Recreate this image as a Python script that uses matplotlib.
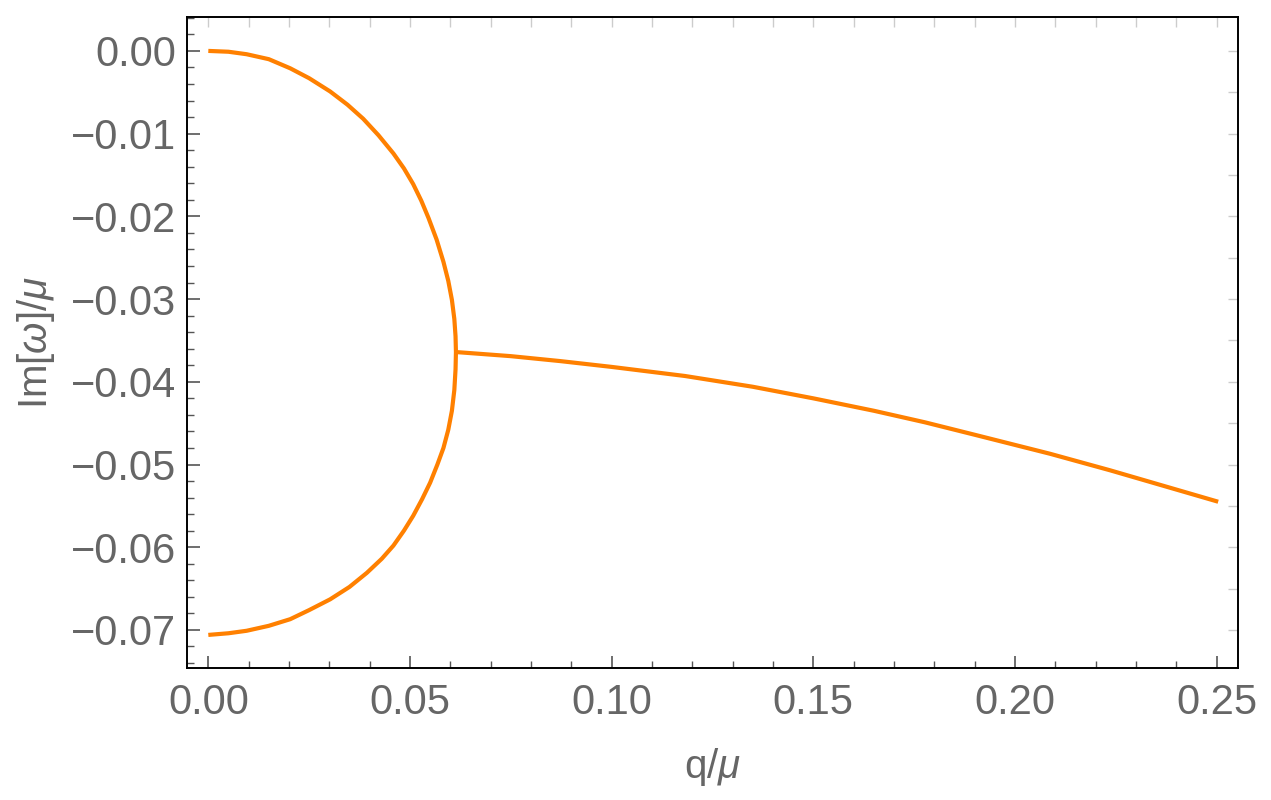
import matplotlib
matplotlib.use("Agg")
import matplotlib.pyplot as plt
from matplotlib.ticker import MultipleLocator, FuncFormatter

# Closed arc (upper branch then lower branch)
arc_q = [0.0, 0.005, 0.0095, 0.015, 0.0203, 0.025, 0.0302, 0.0345, 0.0384, 0.0422,
         0.0459, 0.0485, 0.0508, 0.0528, 0.0546, 0.0566, 0.0583, 0.0595, 0.0604, 0.0610,
         0.0613, 0.0614,
         0.0613, 0.0610, 0.0604, 0.0595, 0.0583, 0.0568, 0.0550, 0.0530, 0.0508, 0.0485,
         0.0459, 0.0430, 0.0393, 0.0350, 0.0302, 0.0250, 0.0203, 0.0150, 0.0095, 0.0050, 0.0]
arc_im = [0.0, -0.0001, -0.0004, -0.0010, -0.0021, -0.0033, -0.0049, -0.0065, -0.0082, -0.0102,
          -0.0124, -0.0142, -0.0161, -0.0181, -0.0202, -0.0228, -0.0255, -0.0278, -0.0301, -0.0324,
          -0.0345, -0.0364,
          -0.0385, -0.0410, -0.0435, -0.0458, -0.0480, -0.0500, -0.0522, -0.0542, -0.0562, -0.0580,
          -0.0598, -0.0614, -0.0631, -0.0648, -0.0663, -0.0676, -0.0687, -0.0695, -0.0701, -0.0704, -0.0706]

# Branch after the junction
tail_q = [0.0613, 0.075, 0.0873, 0.100, 0.1182, 0.135, 0.150, 0.165, 0.1777, 0.190,
          0.2087, 0.2236, 0.2370, 0.2504]
tail_im = [-0.0364, -0.0369, -0.0375, -0.0382, -0.0393, -0.0406, -0.0420, -0.0435, -0.0449, -0.0464,
           -0.0487, -0.0507, -0.0526, -0.0545]

x_ticks = [0.00, 0.05, 0.10, 0.15, 0.20, 0.25]
y_ticks = [0.00, -0.01, -0.02, -0.03, -0.04, -0.05, -0.06, -0.07]

plt.rcParams['font.family'] = ['Liberation Sans', 'DejaVu Sans']
plt.rcParams['mathtext.fontset'] = 'custom'
plt.rcParams['mathtext.it'] = 'Liberation Sans:italic'
plt.rcParams['mathtext.rm'] = 'Liberation Sans'

fig = plt.figure(figsize=(12.71, 8.0), dpi=100)
ax = fig.add_axes([0.1474, 0.165, 0.9743 - 0.1474, 0.97875 - 0.165])

orange = '#FF8000'
ax.plot(arc_q, arc_im, color=orange, lw=3.0, solid_capstyle='butt', solid_joinstyle='round')
ax.plot(tail_q, tail_im, color=orange, lw=3.0, solid_capstyle='butt', solid_joinstyle='round')

ax.set_xlim(-0.0052, 0.2554)
ax.set_ylim(-0.0746, 0.0041)

def fmt(v, pos):
    s = '%.2f' % abs(v)
    return ('\u2212' + s) if v < -1e-12 else s

gray = '#666666'
ax.set_xticks(x_ticks)
ax.set_yticks(y_ticks)
ax.xaxis.set_major_formatter(FuncFormatter(fmt))
ax.yaxis.set_major_formatter(FuncFormatter(fmt))
ax.xaxis.set_minor_locator(MultipleLocator(0.01))
ax.yaxis.set_minor_locator(MultipleLocator(0.002))
ax.tick_params(axis='both', which='major', direction='in', length=9, width=1.2,
               color='#555555', labelcolor=gray, labelsize=30)
ax.tick_params(axis='both', which='minor', direction='in', length=5, width=1.0, color='#555555')
ax.tick_params(axis='x', which='major', pad=11)
ax.tick_params(axis='y', which='major', pad=8)

for s in ax.spines.values():
    s.set_color('black')
    s.set_linewidth(1.4)

secx = ax.secondary_xaxis('top')
secx.set_xticks([0.0, 0.01, 0.02, 0.03, 0.04, 0.05, 0.06, 0.07, 0.08, 0.09, 0.10, 0.11, 0.12,
                 0.13, 0.14, 0.15, 0.16, 0.17, 0.18, 0.19, 0.20, 0.21, 0.22, 0.23, 0.24, 0.25])
secx.tick_params(direction='in', length=7, width=1.0, color='#cccccc', labeltop=False)
secx.spines['top'].set_visible(False)
secy = ax.secondary_yaxis('right')
secy.set_yticks([0.0, -0.005, -0.01, -0.015, -0.02, -0.025, -0.03, -0.035, -0.04, -0.045,
                 -0.05, -0.055, -0.06, -0.065, -0.07])
secy.tick_params(direction='in', length=7, width=1.0, color='#cccccc', labelright=False)
secy.spines['right'].set_visible(False)

ax.set_xlabel(r'q/$\mu$', fontsize=29, color=gray, labelpad=16)
ax.set_ylabel(r'Im[$\omega$]/$\mu$', fontsize=29, color=gray, labelpad=10)

fig.savefig('out.png', dpi=100)
